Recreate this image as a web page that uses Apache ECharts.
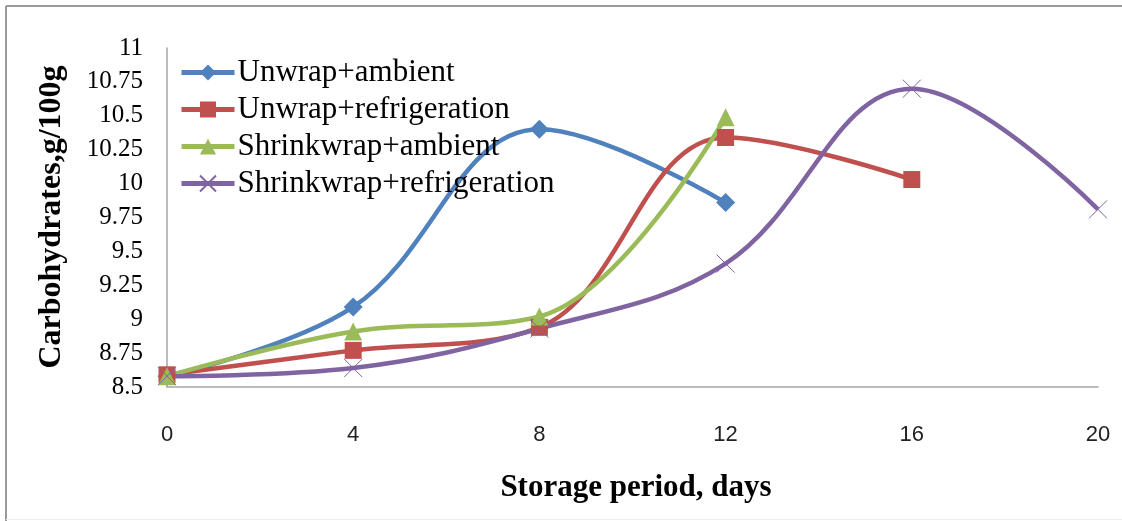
<!DOCTYPE html>
<html>
<head>
<meta charset="utf-8">
<script src="https://cdn.jsdelivr.net/npm/echarts@6/dist/echarts.min.js"></script>
<style>
  html, body { margin: 0; padding: 0; background: #fff; }
  #chart { width: 1122px; height: 521px; }
</style>
</head>
<body>
<div id="chart"></div>
<script>
// Storage day for each measurement
const days = [0, 4, 8, 12, 16, 20];

// Carbohydrate content (g/100g) per treatment; null where not measured
const unwrapAmbient = [8.58, 9.09, 10.40, 9.86, null, null];
const unwrapRefrigeration = [8.59, 8.77, 8.94, 10.34, 10.03, null];
const shrinkwrapAmbient = [8.58, 8.91, 9.02, 10.49, null, null];
const shrinkwrapRefrigeration = [8.58, 8.64, 8.93, 9.41, 10.70, 9.81];

const seriesNames = [
  'Unwrap+ambient',
  'Unwrap+refrigeration',
  'Shrinkwrap+ambient',
  'Shrinkwrap+refrigeration'
];

const yTitle = 'Carbohydrates,g/100g';
const xTitle = 'Storage period, days';

function pairs(values) {
  const out = [];
  values.forEach((v, i) => { if (v !== null) out.push([days[i], v]); });
  return out;
}

const crossPath = 'path://M0,0L10,10M10,0L0,10';

function lineSeries(name, values, color, symbol, size, extraItem) {
  return {
    name: name,
    type: 'line',
    data: pairs(values),
    smooth: 0.38,
    symbol: symbol,
    symbolSize: size,
    showAllSymbol: true,
    lineStyle: { color: color, width: 4.5 },
    itemStyle: Object.assign({ color: color }, extraItem || {}),
    emphasis: { disabled: true }
  };
}

const chart = echarts.init(document.getElementById('chart'), null, { renderer: 'canvas' });

chart.setOption({
  animation: false,
  backgroundColor: '#ffffff',
  grid: { left: 167, right: 24, top: 48, bottom: 134, containLabel: false },
  legend: {
    orient: 'vertical',
    left: 179,
    top: 54,
    padding: 0,
    itemGap: 0,
    itemWidth: 53,
    itemHeight: 20,
    lineStyle: { width: 5 },
    data: seriesNames,
    textStyle: {
      fontFamily: '"Liberation Serif", "Times New Roman", serif',
      fontSize: 31,
      color: '#000',
      lineHeight: 37,
      padding: [0, 0, 0, -2]
    }
  },
  xAxis: {
    type: 'value',
    min: 0,
    max: 20,
    interval: 4,
    axisLine: { lineStyle: { color: '#a6a6a6', width: 1.5 } },
    axisTick: { show: false },
    splitLine: { show: false },
    axisLabel: {
      margin: 37,
      fontFamily: '"Liberation Sans", Arial, sans-serif',
      fontSize: 22,
      color: '#222'
    }
  },
  yAxis: {
    type: 'value',
    min: 8.5,
    max: 11,
    interval: 0.25,
    axisLine: { show: true, lineStyle: { color: '#a6a6a6', width: 1.5 } },
    axisTick: { show: false },
    splitLine: { show: false },
    axisLabel: {
      margin: 24,
      fontFamily: '"Liberation Serif", "Times New Roman", serif',
      fontSize: 25,
      color: '#000'
    }
  },
  graphic: [
    { type: 'line', shape: { x1: 6, y1: 6, x2: 1122, y2: 6 }, style: { stroke: '#999', lineWidth: 2 } },
    { type: 'line', shape: { x1: 6, y1: 6, x2: 6, y2: 521 }, style: { stroke: '#999', lineWidth: 2 } },
    { type: 'line', shape: { x1: 6, y1: 519.5, x2: 1122, y2: 519.5 }, style: { stroke: '#eeeeee', lineWidth: 1 } },
    {
      type: 'text',
      x: 52, y: 217,
      rotation: Math.PI / 2,
      style: {
        text: yTitle,
        fontFamily: '"Liberation Serif", "Times New Roman", serif',
        fontSize: 32,
        fontWeight: 'bold',
        fill: '#000',
        textAlign: 'center',
        textVerticalAlign: 'middle'
      }
    },
    {
      type: 'text',
      x: 636, y: 488,
      style: {
        text: xTitle,
        fontFamily: '"Liberation Serif", "Times New Roman", serif',
        fontSize: 31,
        fontWeight: 'bold',
        fill: '#000',
        textAlign: 'center',
        textVerticalAlign: 'middle'
      }
    }
  ],
  series: [
    lineSeries(seriesNames[0], unwrapAmbient, '#4f81bd', 'diamond', 19),
    lineSeries(seriesNames[1], unwrapRefrigeration, '#c0504d', 'rect', 17),
    lineSeries(seriesNames[2], shrinkwrapAmbient, '#9bbb59', 'triangle', 18),
    lineSeries(seriesNames[3], shrinkwrapRefrigeration, '#8064a2', crossPath, 18,
      { borderColor: '#8064a2', borderWidth: 1 })
  ]
});
</script>
</body>
</html>
